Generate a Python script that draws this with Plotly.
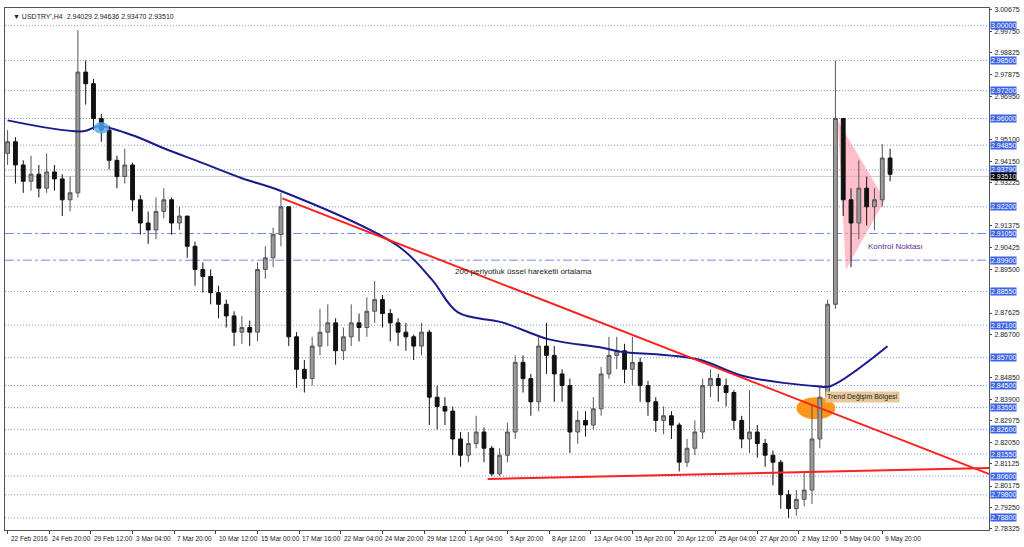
import plotly.graph_objects as go

# USDTRY H4 candles, one candle every 3 bars (bar index = 3*k)
closes = [2.950, 2.940, 2.933, 2.936, 2.930, 2.937, 2.934, 2.925, 2.928, 2.980,
          2.975, 2.960, 2.955, 2.942, 2.935, 2.940, 2.925, 2.915, 2.912, 2.920,
          2.925, 2.915, 2.918, 2.905, 2.895, 2.892, 2.885, 2.880, 2.875, 2.868,
          2.870, 2.868, 2.895, 2.900, 2.910, 2.922, 2.866, 2.852, 2.848, 2.862,
          2.868, 2.872, 2.860, 2.866, 2.872, 2.870, 2.877, 2.882, 2.876, 2.872,
          2.868, 2.866, 2.862, 2.868, 2.840, 2.836, 2.834, 2.822, 2.815, 2.820,
          2.825, 2.818, 2.807, 2.815, 2.825, 2.855, 2.848, 2.838, 2.862, 2.858,
          2.850, 2.845, 2.825, 2.830, 2.828, 2.835, 2.850, 2.858, 2.860, 2.852,
          2.855, 2.845, 2.838, 2.830, 2.832, 2.828, 2.812, 2.818, 2.825, 2.845,
          2.848, 2.845, 2.842, 2.830, 2.822, 2.825, 2.820, 2.815, 2.812, 2.798,
          2.792, 2.796, 2.800, 2.822, 2.840, 2.880, 2.960, 2.925, 2.915, 2.930,
          2.922, 2.925, 2.943, 2.936]
highs = [2.955, 2.952, 2.942, 2.944, 2.940, 2.945, 2.940, 2.936, 2.935, 2.998,
         2.985, 2.977, 2.962, 2.957, 2.944, 2.947, 2.941, 2.927, 2.920, 2.926,
         2.930, 2.926, 2.922, 2.918, 2.907, 2.898, 2.895, 2.888, 2.882, 2.877,
         2.875, 2.873, 2.898, 2.905, 2.913, 2.928, 2.922, 2.868, 2.856, 2.866,
         2.878, 2.880, 2.874, 2.870, 2.880, 2.876, 2.883, 2.890, 2.884, 2.878,
         2.874, 2.872, 2.867, 2.872, 2.869, 2.845, 2.840, 2.836, 2.825, 2.825,
         2.832, 2.827, 2.819, 2.818, 2.829, 2.858, 2.858, 2.850, 2.866, 2.872,
         2.862, 2.852, 2.848, 2.834, 2.834, 2.840, 2.853, 2.866, 2.866, 2.863,
         2.866, 2.857, 2.847, 2.840, 2.836, 2.834, 2.829, 2.822, 2.830, 2.848,
         2.852, 2.850, 2.848, 2.843, 2.832, 2.843, 2.828, 2.822, 2.817, 2.813,
         2.800, 2.800, 2.808, 2.837, 2.845, 2.882, 2.985, 2.960, 2.930, 2.942,
         2.935, 2.930, 2.949, 2.947]
lows = [2.940, 2.932, 2.928, 2.929, 2.926, 2.928, 2.929, 2.918, 2.920, 2.926,
        2.966, 2.955, 2.950, 2.938, 2.930, 2.932, 2.920, 2.910, 2.906, 2.908,
        2.917, 2.910, 2.912, 2.900, 2.888, 2.885, 2.880, 2.874, 2.870, 2.862,
        2.863, 2.862, 2.864, 2.891, 2.896, 2.905, 2.862, 2.844, 2.842, 2.845,
        2.858, 2.862, 2.854, 2.856, 2.862, 2.864, 2.866, 2.872, 2.870, 2.864,
        2.862, 2.860, 2.856, 2.858, 2.828, 2.826, 2.828, 2.815, 2.810, 2.812,
        2.818, 2.812, 2.806, 2.806, 2.812, 2.822, 2.842, 2.832, 2.834, 2.850,
        2.838, 2.838, 2.816, 2.820, 2.823, 2.826, 2.832, 2.848, 2.852, 2.846,
        2.845, 2.838, 2.832, 2.825, 2.824, 2.822, 2.808, 2.810, 2.815, 2.822,
        2.840, 2.838, 2.836, 2.826, 2.818, 2.816, 2.814, 2.810, 2.802, 2.792,
        2.788, 2.789, 2.793, 2.794, 2.818, 2.838, 2.878, 2.918, 2.896, 2.908,
        2.914, 2.912, 2.922, 2.933]

# 200-period EMA (bar index, price)
ema_x = [0, 29, 35, 48, 60, 75, 90, 105, 150, 163, 173, 190, 208, 228, 235, 265, 283, 311, 316, 338]
ema_y = [2.9592, 2.9545, 2.9567, 2.9528, 2.9472, 2.9408, 2.9343, 2.9288, 2.9051, 2.8906, 2.8765,
         2.8722, 2.8649, 2.8614, 2.8597, 2.8563, 2.8490, 2.8447, 2.8447, 2.8619]

# horizontal levels
levels = [3.0, 2.985, 2.972, 2.96, 2.9485, 2.9379, 2.922, 2.8855, 2.871, 2.857,
          2.845, 2.8355, 2.826, 2.8155, 2.806, 2.798, 2.788]
control_levels = [2.9105, 2.899]
tick_vals = [3.00675, 2.9975, 2.98825, 2.97875, 2.9695, 2.951, 2.9415, 2.93225,
             2.91375, 2.90425, 2.895, 2.87625, 2.867, 2.8485, 2.839, 2.82975,
             2.8205, 2.81125, 2.80175, 2.7925, 2.78325]
date_labels = ["22 Feb 2016", "24 Feb 20:00", "29 Feb 12:00", "3 Mar 04:00", "7 Mar 20:00",
               "10 Mar 12:00", "15 Mar 00:00", "17 Mar 16:00", "22 Mar 04:00", "24 Mar 20:00",
               "29 Mar 12:00", "1 Apr 04:00", "5 Apr 20:00", "8 Apr 12:00", "13 Apr 04:00",
               "15 Apr 20:00", "20 Apr 12:00", "25 Apr 04:00", "27 Apr 20:00", "2 May 12:00",
               "5 May 04:00", "9 May 20:00"]

xs = [3 * k for k in range(len(closes))]
opens = [2.945] + closes[:-1]
date_pos = [16 * i for i in range(len(date_labels))]

fig = go.Figure()
fig.add_trace(go.Candlestick(
    x=xs, open=opens, high=highs, low=lows, close=closes,
    increasing=dict(line=dict(color="#555555", width=1), fillcolor="#9a9a9a"),
    decreasing=dict(line=dict(color="#111111", width=1), fillcolor="#111111"),
    whiskerwidth=0, showlegend=False, hoverinfo="skip"))
fig.add_trace(go.Scatter(x=ema_x, y=ema_y, mode="lines", line=dict(color="#1a1a8c", width=2),
                         line_shape="spline", showlegend=False, hoverinfo="skip"))
# trend lines
fig.add_trace(go.Scatter(x=[105.5, 378], y=[2.9256, 2.8065], mode="lines",
                         line=dict(color="#ff2020", width=2), showlegend=False, hoverinfo="skip"))
fig.add_trace(go.Scatter(x=[184.4, 378], y=[2.8048, 2.8095], mode="lines",
                         line=dict(color="#ff2020", width=2), showlegend=False, hoverinfo="skip"))

shapes = []
for lv in levels:
    shapes.append(dict(type="line", xref="paper", x0=0, x1=1, y0=lv, y1=lv,
                       line=dict(color="#7b93f0", width=1, dash="1px,2px"), layer="below"))
for lv in control_levels:
    shapes.append(dict(type="line", xref="paper", x0=0, x1=1, y0=lv, y1=lv,
                       line=dict(color="#6f8cf5", width=1, dash="dashdot"), layer="below"))
shapes.append(dict(type="line", xref="paper", x0=0, x1=1, y0=2.9351, y1=2.9351,
                   line=dict(color="#c8c8c8", width=1), layer="below"))
shapes.append(dict(type="circle", x0=33, x1=39, y0=2.9535, y1=2.9585,
                   fillcolor="rgba(80,170,240,0.8)", line_width=0))
shapes.append(dict(type="circle", x0=303, x1=318, y0=2.8305, y1=2.840,
                   fillcolor="rgba(255,140,0,0.9)", line_width=0, layer="below"))
shapes.append(dict(type="path", path="M 318.9 2.9592 L 337 2.9249 L 322 2.8949 Z",
                   fillcolor="rgba(255,150,170,0.6)", line_width=0, layer="below"))
fig.update_layout(shapes=shapes)

lab_font = dict(color="white", size=7, family="Liberation Sans")
annotations = []
for lv in levels + control_levels:
    annotations.append(dict(x=1.001, xref="paper", y=lv, xanchor="left", showarrow=False,
                            text="%.5f" % lv, bgcolor="#3c64e6", font=lab_font, borderpad=0))
annotations.append(dict(x=1.001, xref="paper", y=2.9351, xanchor="left", showarrow=False,
                        text="2.93510", bgcolor="black", font=lab_font, borderpad=0))
for pos, lab in zip(date_pos, date_labels):
    annotations.append(dict(x=pos, y=-0.006, yref="paper", xanchor="left", yanchor="top",
                            xshift=1, showarrow=False, text=lab, font=dict(size=6.5, color="#222")))
annotations += [
    dict(x=198, y=2.894, text="200 periyotluk üssel hareketli ortalama", showarrow=False,
         font=dict(size=8, color="#222")),
    dict(x=341, y=2.9050, text="Kontrol Noktası", showarrow=False, xanchor="center",
         font=dict(size=8, color="#5a2ca0")),
    dict(x=314, y=2.840, text="Trend Değişim Bölgesi", showarrow=False, xanchor="left",
         bgcolor="#e8c89a", font=dict(size=7, color="#222"), borderpad=1),
    dict(x=0.006, xref="paper", y=0.995, yref="paper", yanchor="top", xanchor="left", showarrow=False,
         text="▼ USDTRY',H4  2.94029 2.94636 2.93470 2.93510", font=dict(size=7, color="#222")),
]
fig.update_layout(annotations=annotations)

fig.update_layout(
    width=1024, height=547, margin=dict(l=4, r=30, t=8, b=17),
    plot_bgcolor="white", paper_bgcolor="white",
    font=dict(family="Liberation Sans", size=7, color="#222"),
    xaxis=dict(range=[-1, 377], tickvals=date_pos, showticklabels=False,
               showgrid=False, rangeslider=dict(visible=False),
               ticks="outside", ticklen=3, showline=True, linecolor="#555", mirror=True,
               zeroline=False),
    yaxis=dict(range=[2.7828, 3.0076], side="right", tickvals=tick_vals,
               ticktext=["%.5f" % v for v in tick_vals], ticklabelstandoff=1,
               showgrid=False, ticks="outside", ticklen=2,
               showline=True, linecolor="#555", mirror=True, zeroline=False),
)

fig.write_html("out.html", config={"displayModeBar": False},
               post_script="document.body.style.margin='0';document.body.style.overflow='hidden';")
